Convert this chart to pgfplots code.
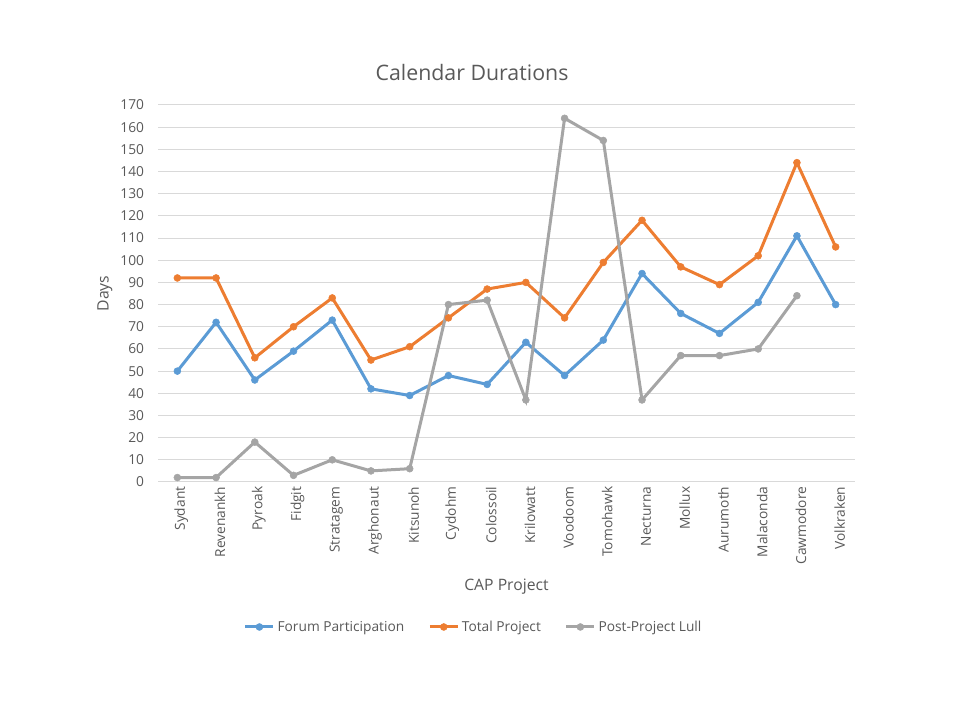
\documentclass[border=0pt]{standalone}
\usepackage{pgfplots}
\pgfplotsset{compat=1.18}
\usepackage{fontspec}
\setmainfont{Open Sans}
\definecolor{cblue}{HTML}{5B9BD5}
\definecolor{corange}{HTML}{ED7D31}
\definecolor{cgrey}{HTML}{A5A5A5}
\definecolor{ctext}{HTML}{595959}
\definecolor{cgrid}{HTML}{D9D9D9}
\begin{document}
\begin{tikzpicture}
\path[use as bounding box] (0,0) rectangle (720pt,540pt);
\begin{axis}[
  at={(118.5pt,178.5pt)}, anchor=south west,
  scale only axis, width=522.75pt, height=282.75pt,
  xmin=-0.5, xmax=17.5, ymin=0, ymax=170,
  xtick={0,...,17},
  xticklabels={Sydant,Revenankh,Pyroak,Fidgit,Stratagem,Arghonaut,Kitsunoh,Cydohm,Colossoil,Krilowatt,Voodoom,Tomohawk,Necturna,Mollux,Aurumoth,Malaconda,Cawmodore,Volkraken},
  ytick={0,10,...,170},
  major tick length=0pt,
  axis line style={draw=none},
  ymajorgrids, major grid style={color=cgrid, line width=0.75pt},
  /pgf/number format/assume math mode=true,
  tick label style={font=\fontsize{10.3}{12}\selectfont, text=ctext},
  xticklabel style={rotate=90, anchor=east, yshift=-3pt},
  yticklabel style={anchor=east, xshift=-7pt},
  xlabel={CAP Project}, ylabel={Days},
  label style={font=\fontsize{11.8}{14}\selectfont, text=ctext},
  xlabel style={at={(rel axis cs:0.5,0)}, anchor=center, yshift=-78.75pt},
  ylabel style={at={(rel axis cs:0,0.5)}, anchor=center, yshift=39.75pt},
  title={Calendar Durations},
  every axis title shift=0pt,
  title style={at={(rel axis cs:0.4505,1.0849)}, anchor=center, yshift=0pt, font=\fontsize{16}{19}\selectfont, text=ctext},
  legend columns=3,
  legend style={at={(rel axis cs:0.4534,-0.3846)}, anchor=center, draw=none, font=\fontsize{10.3}{12}\selectfont, text=ctext,
    /tikz/every even column/.append style={column sep=16pt}},
  legend image code/.code={\draw[#1, mark repeat=2, mark phase=2] plot coordinates {(0pt,0pt) (10.5pt,0pt) (21pt,0pt)};},
  every axis plot/.append style={line width=2.25pt, mark=*, mark size=2.6pt},
]
\addplot[color=cblue, mark options={solid, fill=cblue, draw=cblue, line width=0.4pt}] coordinates {
(0,50) (1,72) (2,46) (3,59) (4,73) (5,42) (6,39) (7,48) (8,44) (9,63) (10,48) (11,64) (12,94) (13,76) (14,67) (15,81) (16,111) (17,80)};
\addlegendentry{Forum Participation}
\addplot[color=corange, mark options={solid, fill=corange, draw=corange, line width=0.4pt}] coordinates {
(0,92) (1,92) (2,56) (3,70) (4,83) (5,55) (6,61) (7,74) (8,87) (9,90) (10,74) (11,99) (12,118) (13,97) (14,89) (15,102) (16,144) (17,106)};
\addlegendentry{Total Project}
\addplot[color=cgrey, mark options={solid, fill=cgrey, draw=cgrey, line width=0.4pt}] coordinates {
(0,2) (1,2) (2,18) (3,3) (4,10) (5,5) (6,6) (7,80) (8,82) (9,37) (10,164) (11,154) (12,37) (13,57) (14,57) (15,60) (16,84)};
\addlegendentry{Post-Project Lull}
\end{axis}
\end{tikzpicture}
\end{document}
